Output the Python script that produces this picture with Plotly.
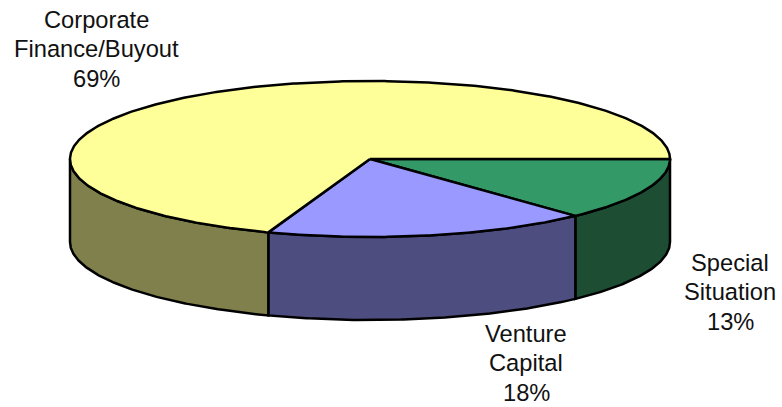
import numpy as np
import plotly.graph_objects as go

# Data
categories = ["Special Situation", "Venture Capital", "Corporate Finance/Buyout"]
shares = [13.0, 17.5, 69.49]
shown_pct = ["13%", "18%", "69%"]

# Style / layout of the drawing
top_colors = ["#339966", "#9999FF", "#FFFF99"]
side_colors = ["#1D4D33", "#4D4D80", "#80804D"]
CX, CY, RX, RY, DEPTH = 370.0, 159.0, 300.0, 78.0, 83.0
label_lines = [
    (["Special", "Situation"], 730, [263, 292, 322]),
    (["Venture", "Capital"], 526, [334, 363, 393]),
    (["Corporate", "Finance/Buyout"], 96, [20, 49, 79]),
]


def arc(a0, a1, dy=0.0):
    t = np.radians(np.linspace(a0, a1, max(int(abs(a1 - a0) * 2), 2)))
    return CX + RX * np.cos(t), CY + RY * np.sin(t) + dy


fig = go.Figure()
edges = np.concatenate([[0], np.cumsum(shares)]) / sum(shares) * 360

# Visible outer walls (front half only)
for i in range(3):
    a0, a1 = edges[i], min(edges[i + 1], 180)
    if a0 >= 180:
        continue
    xt, yt = arc(a0, a1)
    xb, yb = arc(a1, a0, DEPTH)
    fig.add_trace(go.Scatter(
        x=np.concatenate([xt, xb, xt[:1]]), y=np.concatenate([yt, yb, yt[:1]]),
        mode="lines", fill="toself", fillcolor=side_colors[i],
        line=dict(color="black", width=2.5), hoverinfo="skip", showlegend=False))

# Top slices
for i in range(3):
    xs, ys = arc(edges[i], edges[i + 1])
    fig.add_trace(go.Scatter(
        x=np.concatenate([[CX], xs, [CX]]), y=np.concatenate([[CY], ys, [CY]]),
        mode="lines", fill="toself", fillcolor=top_colors[i],
        line=dict(color="black", width=2.5), name=categories[i],
        hoverinfo="name", showlegend=False))

# Labels
for (lines, x, ys), pct in zip(label_lines, shown_pct):
    for text, y in zip(lines + [pct], ys):
        fig.add_annotation(x=x, y=y, text=text, showarrow=False,
                           xanchor="center", yanchor="middle",
                           font=dict(family="Liberation Sans, Arial, sans-serif", size=23.7, color="#111111"))

fig.update_layout(
    width=782, height=407, margin=dict(l=0, r=0, t=0, b=0),
    paper_bgcolor="white", plot_bgcolor="white", showlegend=False,
    xaxis=dict(range=[0, 782], visible=False, fixedrange=True),
    yaxis=dict(range=[407, 0], visible=False, fixedrange=True),
)
fig.write_html("out.html", post_script="document.body.style.margin='0';",
               config={"displayModeBar": False})
